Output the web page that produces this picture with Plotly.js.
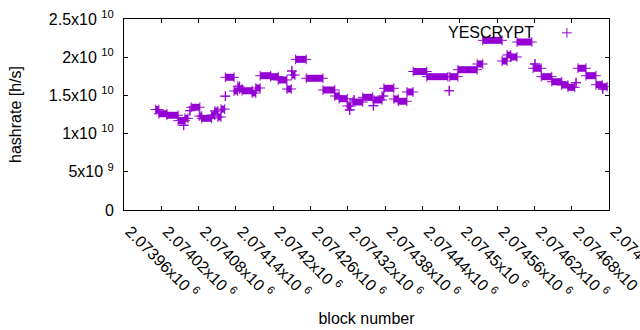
<!DOCTYPE html>
<html>
<head>
<meta charset="utf-8">
<script src="https://cdn.plot.ly/plotly-3.0.1.min.js"></script>
<style>html,body{margin:0;padding:0;background:#fff;}</style>
</head>
<body>
<div id="chart" style="width:640px;height:330px;"></div>
<script>
// Runs of (nearly) constant hashrate: first block, last block, hashrate [h/s]
const segStart = [2074011,2074016,2074029,2074047,2074056,2074058,2074066,2074068,2074081,2074085,2074101,2074106,2074111,2074116,2074123,2074123,2074137,2074143,2074146,2074150,2074166,2074172,2074179,2074196,2074208,2074222,2074230,2074230,2074236,2074253,2074280,2074299,2074306,2074319,2074323,2074330,2074328,2074344,2074361,2074362,2074375,2074378,2074394,2074401,2074415,2074425,2074447,2074483,2074484,2074497,2074528,2074537,2074568,2074576,2074582,2074592,2074621,2074618,2074631,2074648,2074664,2074674,2074687,2074690,2074703,2074719,2074729,2074730];
const segEnd   = [2074016,2074029,2074047,2074058,2074056,2074063,2074066,2074082,2074085,2074101,2074106,2074111,2074116,2074122,2074123,2074137,2074143,2074146,2074150,2074166,2074172,2074179,2074196,2074208,2074222,2074229,2074230,2074235,2074253,2074280,2074299,2074306,2074319,2074325,2074323,2074330,2074344,2074360,2074361,2074375,2074378,2074394,2074401,2074415,2074425,2074447,2074481,2074483,2074497,2074528,2074537,2074568,2074576,2074582,2074592,2074616,2074621,2074631,2074648,2074664,2074674,2074685,2074687,2074703,2074719,2074729,2074737,2074730];
const segRate  = [1.315e10,1.26e10,1.24e10,1.17e10,1.11e10,1.20e10,1.30e10,1.345e10,1.23e10,1.20e10,1.243e10,1.296e10,1.217e10,1.32e10,1.49e10,1.737e10,1.558e10,1.62e10,1.584e10,1.561e10,1.531e10,1.597e10,1.758e10,1.745e10,1.702e10,1.584e10,1.819e10,1.767e10,1.972e10,1.724e10,1.571e10,1.492e10,1.457e10,1.361e10,1.309e10,1.44e10,1.414e10,1.475e10,1.365e10,1.44e10,1.492e10,1.593e10,1.453e10,1.423e10,1.545e10,1.813e10,1.745e10,1.561e10,1.745e10,1.836e10,1.911e10,2.221e10,1.95e10,2.029e10,2.003e10,2.199e10,1.911e10,1.855e10,1.745e10,1.679e10,1.636e10,1.606e10,1.666e10,1.855e10,1.758e10,1.64e10,1.614e10,1.584e10];

const xTickVals = [2073960,2074020,2074080,2074140,2074200,2074260,2074320,2074380,2074440,2074500,2074560,2074620,2074680,2074740];
const xTickText = ['2.07396x10 <sup>6</sup>','2.07402x10 <sup>6</sup>','2.07408x10 <sup>6</sup>','2.07414x10 <sup>6</sup>','2.0742x10 <sup>6</sup>','2.07426x10 <sup>6</sup>','2.07432x10 <sup>6</sup>','2.07438x10 <sup>6</sup>','2.07444x10 <sup>6</sup>','2.0745x10 <sup>6</sup>','2.07456x10 <sup>6</sup>','2.07462x10 <sup>6</sup>','2.07468x10 <sup>6</sup>','2.07474x10 <sup>6</sup>'];
const yTickVals = [0,5e9,1e10,1.5e10,2e10,2.5e10];
const yTickText = ['0','5x10 <sup>9</sup>','1x10 <sup>10</sup>','1.5x10 <sup>10</sup>','2x10 <sup>10</sup>','2.5x10 <sup>10</sup>'];

const seriesName = 'YESCRYPT';
const purple = '#9400d3';
const FONT = 'Liberation Sans, Arial, sans-serif';

const xs = [], ys = [];
for (let i = 0; i < segStart.length; i++) {
  xs.push(segStart[i], segEnd[i], null);
  ys.push(segRate[i], segRate[i], null);
}

const markerStyle = {symbol: 'cross-thin', size: 7, color: purple, line: {color: purple, width: 1}};

const traces = [
  {
    type: 'scatter', mode: 'lines+markers', name: seriesName,
    x: xs, y: ys, connectgaps: false,
    line: {color: purple, width: 7},
    marker: markerStyle,
    showlegend: false
  },
  {
    type: 'scatter', mode: 'markers', name: ' ',
    x: [null], y: [null], marker: markerStyle, showlegend: true, hoverinfo: 'skip'
  }
];

const axisCommon = {
  showline: true, linecolor: '#000', linewidth: 1, mirror: 'ticks',
  ticks: 'inside', ticklen: 4, tickcolor: '#000', tickwidth: 1,
  showgrid: false, zeroline: false, ticklabeloverflow: 'allow',
  tickfont: {family: FONT, size: 16, color: '#000'}
};

const layout = {
  width: 640, height: 330,
  margin: {l: 124, r: 31, t: 19, b: 120, pad: 0},
  paper_bgcolor: '#fff', plot_bgcolor: '#fff',
  font: {family: FONT, color: '#000'},
  xaxis: Object.assign({}, axisCommon, {
    range: [2073960, 2074740], tickmode: 'array', tickvals: xTickVals, ticktext: xTickText,
    tickangle: 45, automargin: false, ticklabelshift: 6, ticklabelstandoff: 5,
    title: {text: 'block number', font: {family: FONT, size: 16, color: '#000'}, standoff: 12}
  }),
  yaxis: Object.assign({}, axisCommon, {
    range: [0, 2.5e10], tickmode: 'array', tickvals: yTickVals, ticktext: yTickText,
    ticklabelstandoff: 6, automargin: false,
    title: {text: 'hashrate [h/s]', font: {family: FONT, size: 16, color: '#000'}, standoff: 23}
  }),
  showlegend: true,
  legend: {x: 0.872, y: 1.016, xanchor: 'left', yanchor: 'top', bgcolor: 'rgba(0,0,0,0)', font: {family: FONT, size: 16, color: '#000'}},
  annotations: [{
    text: seriesName, xref: 'paper', yref: 'paper', x: 0.8495, y: 0.927,
    xanchor: 'right', yanchor: 'middle', showarrow: false,
    font: {family: FONT, size: 16, color: '#000'}
  }]
};

Plotly.newPlot('chart', traces, layout, {displayModeBar: false, staticPlot: true});
</script>
</body>
</html>
